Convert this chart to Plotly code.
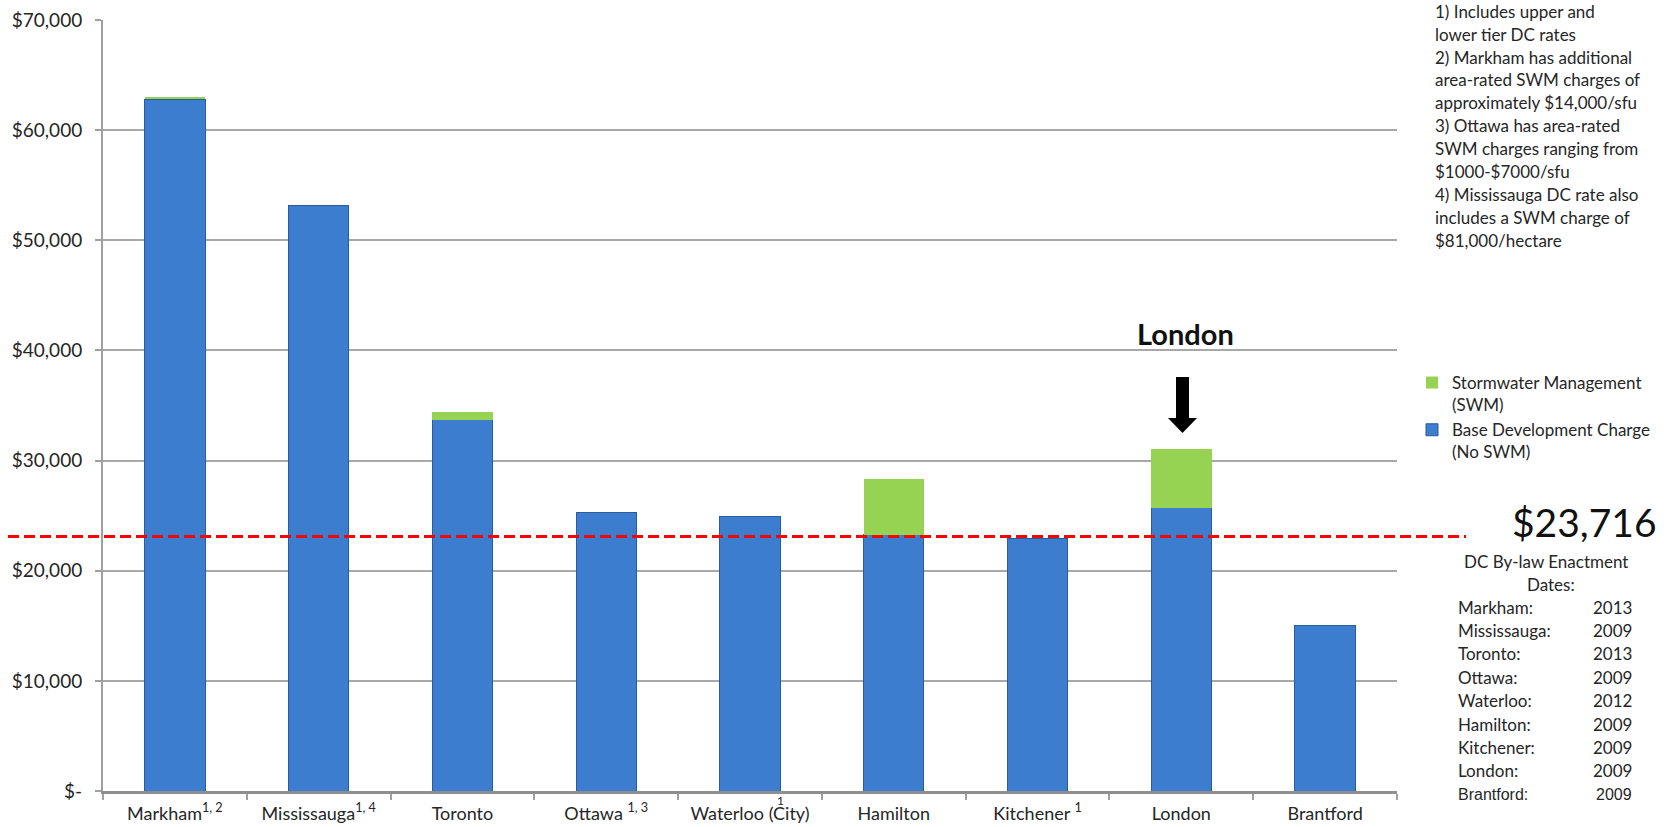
import plotly.graph_objects as go

# ---------------- data ----------------
cities = ["Markham<sup>1, 2</sup>", "Mississauga<sup>1, 4</sup>", "Toronto",
          "Ottawa <sup>1, 3</sup>", "Waterloo (City)", "Hamilton",
          "Kitchener <sup>1</sup>", "London", "Brantford"]
base_dc = [62800, 53200, 33700, 25300, 24900, 23250, 22900, 25700, 15050]
swm = [250, 0, 700, 0, 0, 5050, 0, 5350, 0]

y_tickvals = [0, 10000, 20000, 30000, 40000, 50000, 60000, 70000]
y_ticktext = ["$-", "$10,000", "$20,000", "$30,000", "$40,000", "$50,000", "$60,000", "$70,000"]

reference_line_value = 23100      # where the dashed line is drawn
reference_line_label = "$23,716"

notes = ["1) Includes upper and", "lower tier DC rates",
         "2) Markham has additional", "area-rated SWM charges of",
         "approximately $14,000/sfu", "3) Ottawa has area-rated",
         "SWM charges ranging from", "$1000-$7000/sfu",
         "4) Mississauga DC rate also", "includes a SWM charge of",
         "$81,000/hectare"]

enact_cities = ["Markham:", "Mississauga:", "Toronto:", "Ottawa:", "Waterloo:",
                "Hamilton:", "Kitchener:", "London:", "Brantford:"]
enact_years = ["2013", "2009", "2013", "2009", "2012", "2009", "2009", "2009", "2009"]

# ---------------- layout helpers ----------------
W, H = 1671, 827
L, R, T, B = 103, 1397, 20, 791
def px2x(px):
    return (px - L) / (R - L)
def py2y(py):
    return (B - py) / (B - T)

FONT = "Lato, Calibri, 'Open Sans', sans-serif"
TXT = "#262626"

fig = go.Figure()
fig.add_trace(go.Bar(
    x=cities, y=base_dc, name="Base Development Charge<br>(No SWM)",
    marker=dict(color="#3c7dcf", line=dict(color="#2a5c9c", width=1)),
))
fig.add_trace(go.Bar(
    x=cities, y=swm, name="Stormwater Management<br>(SWM)",
    marker=dict(color="#97d353", line=dict(color="#6b9e3a", width=0)),
))

annotations = []
# notes block
for i, line in enumerate(notes):
    annotations.append(dict(xref="paper", yref="paper", x=px2x(1433), y=py2y(11 + i * 23.0),
                            text=line, showarrow=False, xanchor="left", yanchor="middle",
                            font=dict(size=17, color=TXT, family=FONT)))
# big value label
annotations.append(dict(xref="paper", yref="paper", x=px2x(1659), y=py2y(522),
                        text=reference_line_label, showarrow=False, xanchor="right",
                        yanchor="middle", font=dict(size=39, color="#111111", family=FONT)))
# table header
annotations.append(dict(xref="paper", yref="paper", x=px2x(1546), y=py2y(561),
                        text="DC By-law Enactment", showarrow=False, xanchor="center",
                        yanchor="middle", font=dict(size=17, color=TXT, family=FONT)))
annotations.append(dict(xref="paper", yref="paper", x=px2x(1551), y=py2y(584),
                        text="Dates:", showarrow=False, xanchor="center",
                        yanchor="middle", font=dict(size=17, color=TXT, family=FONT)))
for i, (c, yr) in enumerate(zip(enact_cities, enact_years)):
    fam = "'Liberation Sans', Arial, sans-serif" if c == "Brantford:" else FONT
    fs = 16 if c == "Brantford:" else 17
    yy = py2y(607 + i * 23.4)
    annotations.append(dict(xref="paper", yref="paper", x=px2x(1456), y=yy, text=c,
                            showarrow=False, xanchor="left", yanchor="middle",
                            font=dict(size=fs, color=TXT, family=fam)))
    annotations.append(dict(xref="paper", yref="paper", x=px2x(1634), y=yy, text=yr,
                            showarrow=False, xanchor="right", yanchor="middle",
                            font=dict(size=fs, color=TXT, family=fam)))
# London callout
annotations.append(dict(xref="x", yref="paper", x="London", xshift=4, y=py2y(333),
                        text="<b>London</b>", showarrow=False, xanchor="center",
                        yanchor="middle", font=dict(size=29, color="#111111", family=FONT)))
# stray superscript on Waterloo label
annotations.append(dict(xref="x", yref="paper", x="Waterloo (City)", xshift=30,
                        y=py2y(800), text="1", showarrow=False, xanchor="center",
                        yanchor="middle", font=dict(size=12, color=TXT, family=FONT)))

# arrow path
ax = 1182.5
pts = [(ax - 6.5, 377), (ax + 6.5, 377), (ax + 6.5, 418), (ax + 14.5, 418),
       (ax, 433), (ax - 14.5, 418), (ax - 6.5, 418)]
path = "M " + " L ".join(f"{px2x(p[0]):.5f},{py2y(p[1]):.5f}" for p in pts) + " Z"

shapes = [
    dict(type="path", xref="paper", yref="paper", path=path,
         fillcolor="#000000", line=dict(color="#000000", width=0)),
    dict(type="line", xref="paper", yref="y", x0=px2x(8), x1=px2x(1466),
         y0=reference_line_value, y1=reference_line_value,
         line=dict(color="#ff0000", width=3, dash="11px,5px")),
]

fig.update_layout(
    width=W, height=H,
    margin=dict(l=L, r=W - R, t=T, b=H - B, pad=0, autoexpand=False),
    barmode="stack", bargap=0.58,
    paper_bgcolor="white", plot_bgcolor="white",
    font=dict(family=FONT, size=17, color=TXT),
    legend=dict(x=px2x(1412), y=py2y(365), xanchor="left", yanchor="top",
                traceorder="reversed", valign="top", font=dict(size=17, color=TXT),
                bgcolor="rgba(0,0,0,0)", itemwidth=30, tracegroupgap=14),
    annotations=annotations, shapes=shapes,
    xaxis=dict(showgrid=False, showline=True, linecolor="#8f8f8f", linewidth=3,
               ticks="outside", tickson="boundaries", ticklen=6, tickcolor="#a0a0a0",
               tickwidth=1.5, ticklabelstandoff=4, automargin=False,
               tickfont=dict(size=18, color=TXT, family=FONT)),
    yaxis=dict(range=[0, 70000], tickvals=y_tickvals, ticktext=y_ticktext,
               showgrid=True, gridcolor="#a8a8a8", gridwidth=2, automargin=False,
               showline=True, linecolor="#a0a0a0", linewidth=2, zeroline=False,
               ticks="outside", ticklen=6, tickcolor="#a0a0a0", tickwidth=2,
               ticklabelstandoff=9, tickfont=dict(size=19, color=TXT, family=FONT)),
)

fig.write_html("out.html")
